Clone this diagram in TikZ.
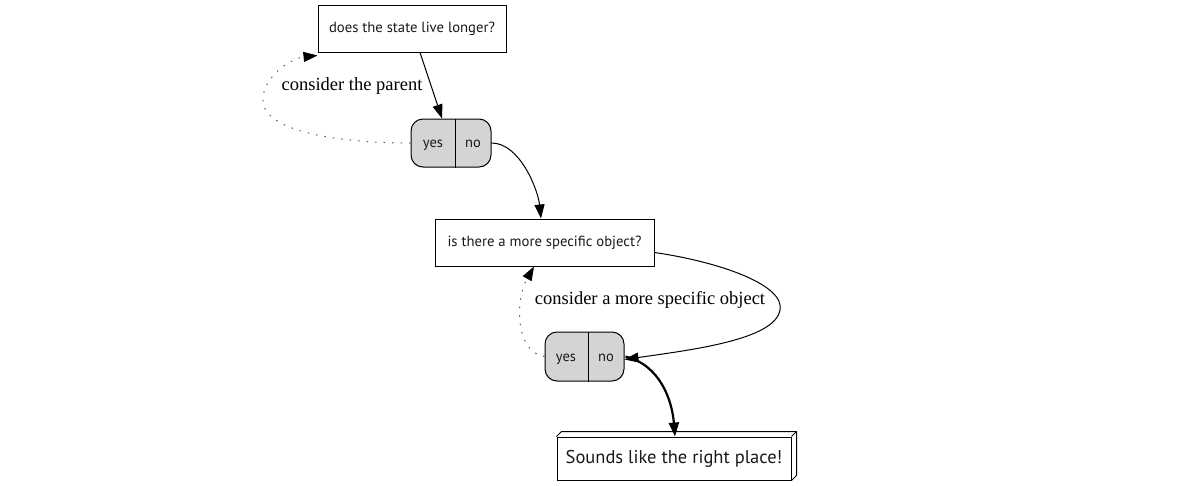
\documentclass[tikz,border=0pt]{standalone}
\usepackage{fontspec}
\setmainfont{Liberation Serif}
\newfontfamily\nodefont{PT Sans}
\usetikzlibrary{arrows.meta,calc}
\tikzset{
  qbox/.style={draw, line width=1pt, font=\nodefont\fontsize{14.7}{17}\selectfont, inner sep=0pt, text=black!90},
  rec/.style={draw, line width=1pt, fill=black!17, rounded corners=12pt, inner sep=0pt},
  rtxt/.style={font=\nodefont\fontsize{14.5}{17}\selectfont, inner sep=0pt, text height=8pt, text depth=3pt, text=black!90},
  arr/.style={line width=1pt, -{Triangle[length=14pt,width=10pt]}},
  thickarr/.style={line width=2.2pt, -{Triangle[length=14pt,width=10pt]}},
  dotarr/.style={line width=1pt, black!65, dash pattern=on 1.5pt off 7pt, -{Triangle[length=14pt,width=10pt,color=black,fill=black]}},
  elabel/.style={font=\fontsize{18.5}{21}\selectfont, inner sep=1pt},
}
\begin{document}
\begin{tikzpicture}[x=1pt,y=-1pt]
\useasboundingbox (0,0) rectangle (1201,485);
% question boxes
\node[qbox, minimum width=188pt, minimum height=47pt] (q1) at (412,28.5) {does the state live longer?};
\node[qbox, minimum width=219pt, minimum height=47pt] (q2) at (544.5,242.5) {is there a more specific object?};
% record 1
\node[rec, minimum width=80pt, minimum height=48pt] (r1) at (451,143) {};
\draw[line width=1pt] ([xshift=4pt]r1.north) -- ([xshift=4pt]r1.south);
\node[rtxt] (r1y) at (433,145) {yes};
\node[rtxt] (r1n) at (473,145) {no};
% record 2
\node[rec, minimum width=79pt, minimum height=49pt] (r2) at (584.5,356.5) {};
\draw[line width=1pt] ([xshift=3.5pt]r2.north) -- ([xshift=3.5pt]r2.south);
\node[rtxt] (r2y) at (566,359) {yes};
\node[rtxt] (r2n) at (606,359) {no};
% final box
\node[draw, line width=1pt, minimum width=234pt, minimum height=43pt, inner sep=0pt,
      font=\nodefont\fontsize{18.5}{21}\selectfont, text=black!90] (b3) at (674,458.5) {Sounds like the right place!};
\draw[line width=1pt, line join=round] (b3.north west) -- ++(5,-5) -- ($(b3.north east)+(5,-5)$) -- ($(b3.south east)+(5,-5)$) -- (b3.south east);
\draw[line width=1pt] (b3.north east) -- ++(5,-5);
% edges
\draw[arr] ([xshift=8pt]q1.south) -- ([xshift=-9pt]r1.north);
\draw[dotarr] (r1.west) .. controls (340,143) and (263,132) .. (263,100) .. controls (263,75) and (293,58) .. ([yshift=-3pt]q1.south west);
\node[elabel] (l1) at (352,86) {consider the parent};
\draw[arr] (r1.east) .. controls (520,143) and (538,190) .. ([xshift=-3.5pt]q2.north);
\draw[arr] ([yshift=-10pt]q2.east) .. controls (720,262) and (785,285) .. (780,310) .. controls (775,340) and (690,350) .. ([yshift=-3pt]r2.east);
\draw[dotarr] (r2.west) .. controls (515,352) and (515,300) .. ([xshift=-10.5pt]q2.south);
\node[elabel] (l2) at (650,300) {consider a more specific object};
\draw[thickarr] ([xshift=1pt]r2.east) .. controls (660,365) and (672,400) .. ([xshift=1pt]b3.north);
\end{tikzpicture}
\end{document}
